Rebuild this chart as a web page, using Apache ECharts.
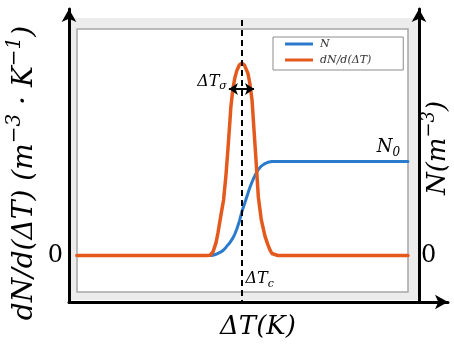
<!DOCTYPE html>
<html>
<head>
<meta charset="utf-8">
<script src="https://cdn.jsdelivr.net/npm/echarts@6/dist/echarts.min.js"></script>
<style>
  html, body { margin: 0; padding: 0; background: #fff; }
  #main { width: 454px; height: 347px; }
</style>
</head>
<body>
<div id="main"></div>
<script>
// Temperature difference samples (arbitrary units along ΔT)
const deltaT = [0, 39.0, 40.2, 41.1, 42.0, 42.6, 43.5, 44.3, 45.0, 45.6, 46.2, 46.5, 47.1, 47.7,
  48.3, 49.1, 49.8, 50.6, 51.4, 51.7, 52.3, 52.9, 53.5, 54.1, 54.8, 55.7, 56.8, 57.7, 58.3,
  58.9, 59.5, 60.7, 100];

// Distribution dN/d(ΔT)
const densityRate = [0, 0, 0.1, 1.4, 5.0, 8.9, 16.0, 22.0, 31.5, 41.8, 52.9, 58.8, 65.9, 70.3,
  73.2, 75.5, 76.2, 75.4, 72.9, 71.9, 67.6, 61.5, 49.5, 37.8, 23.2, 14.1, 7.7, 4.2, 2.2,
  0.8, 0.1, 0, 0];

// Cumulative density N
const densityN = [0, 0, 0, 0.1, 0.5, 0.8, 1.4, 2.2, 3.2, 4.2, 5.1, 5.7, 6.9, 8.5,
  10.5, 13.7, 17.2, 20.4, 23.6, 24.8, 27.1, 29.1, 30.9, 32.5, 34.1, 35.4, 36.4, 36.9, 37.1,
  37.2, 37.2, 37.2, 37.2];

// Characteristic values
const peakT = 49.7;             // ΔT_c
const sigmaSpan = [45.9, 53.5]; // ΔT_σ extent
const sigmaLevel = 65.9;
const plateauN = 37.2;          // N_0
const dashTop = 93.2;

const seriesNames = ['N', 'dN/d(ΔT)'];
const zeroTicks = [0];

const BLUE = '#2a7bcc';
const ORANGE = '#e45a1c';
const SERIF = 'DejaVu Serif';

const chart = echarts.init(document.getElementById('main'), null, { renderer: 'canvas' });

const axisLineStyle = {
  show: true,
  onZero: false,
  lineStyle: { color: '#000', width: 3 },
  symbol: ['none', 'arrow'],
  symbolSize: [11, 13]
};

const yAxisBase = {
  type: 'value',
  min: -18.4,
  max: 97.6,
  axisLine: axisLineStyle,
  axisTick: { show: false },
  splitLine: { show: false },
  axisLabel: {
    show: true,
    customValues: zeroTicks,
    formatter: v => String(v),
    fontFamily: SERIF,
    fontSize: 24,
    color: '#000',
    padding: [6, 0, 0, 0]
  }
};

chart.setOption({
  animation: false,
  grid: { left: 69, right: 6, top: 9, bottom: 45, containLabel: false, outerBoundsMode: 'none' },
  xAxis: {
    type: 'value',
    min: -2.4,
    max: 112.1,
    axisLine: axisLineStyle,
    axisTick: { show: false },
    axisLabel: { show: false },
    splitLine: { show: false }
  },
  yAxis: [
    Object.assign({}, yAxisBase, { position: 'left', axisLabel: Object.assign({}, yAxisBase.axisLabel, { margin: 6 }) }),
    Object.assign({}, yAxisBase, { position: 'right', offset: -29, axisLabel: Object.assign({}, yAxisBase.axisLabel, { margin: 2 }) })
  ],
  legend: {
    data: seriesNames,
    orient: 'vertical',
    left: 273,
    top: 37,
    padding: [0, 32, 3, 12],
    itemGap: 2,
    itemWidth: 28,
    itemHeight: 3,
    icon: 'rect',
    backgroundColor: '#fff',
    borderColor: '#8c8c8c',
    borderWidth: 1,
    textStyle: { fontFamily: SERIF, fontStyle: 'italic', fontSize: 11, color: '#333', lineHeight: 14, padding: [0, 0, 0, 2] }
  },
  series: [
    {
      name: seriesNames[0],
      type: 'line',
      yAxisIndex: 1,
      data: deltaT.map((t, i) => [t, densityN[i]]),
      symbol: 'none',
      smooth: false,
      lineStyle: { color: BLUE, width: 3, cap: 'round', join: 'round' },
      itemStyle: { color: BLUE },
      z: 2
    },
    {
      name: seriesNames[1],
      type: 'line',
      yAxisIndex: 0,
      data: deltaT.map((t, i) => [t, densityRate[i]]),
      symbol: 'none',
      smooth: false,
      lineStyle: { color: ORANGE, width: 3.5, cap: 'round', join: 'round' },
      itemStyle: { color: ORANGE },
      z: 3,
      markLine: {
        silent: true,
        label: { show: false },
        data: [
          [
            { coord: [peakT, dashTop], symbol: 'none', lineStyle: { type: [6, 4], color: '#000', width: 2 } },
            { coord: [peakT, -18.4], symbol: 'none' }
          ],
          [
            { coord: [sigmaSpan[0], sigmaLevel], symbol: 'arrow', symbolSize: 9, lineStyle: { type: 'solid', color: '#000', width: 2 } },
            { coord: [sigmaSpan[1], sigmaLevel], symbol: 'arrow', symbolSize: 9 }
          ]
        ]
      }
    }
  ]
});

// Annotations placed from the data values
const px = (x, y) => chart.convertToPixel({ xAxisIndex: 0, yAxisIndex: 0 }, [x, y]);
const sigmaStart = px(sigmaSpan[0], sigmaLevel);
const peakBase = px(peakT, -9.0);
const plateauPt = px(90.6, plateauN);

const mathText = (sizeMain, sizeSub) => ({
  a: { fontFamily: SERIF, fontStyle: 'italic', fontSize: sizeMain, lineHeight: sizeMain + 4, fill: '#000' },
  s: { fontFamily: SERIF, fontStyle: 'italic', fontSize: sizeSub, lineHeight: sizeSub, verticalAlign: 'bottom', fill: '#000' }
});

chart.setOption({
  graphic: [
    { type: 'rect', z: -10, silent: true, shape: { x: 71, y: 18, width: 347, height: 282 }, style: { fill: '#ececec' } },
    { type: 'rect', z: -9, silent: true, shape: { x: 77, y: 29, width: 331, height: 263 }, style: { fill: '#fff', stroke: '#a6a6a6', lineWidth: 1.5 } },
    {
      type: 'text', z: 50, silent: true, x: sigmaStart[0] - 2, y: sigmaStart[1] + 3,
      style: { text: '{a|ΔT}{s|σ}', rich: mathText(16, 11), align: 'right', verticalAlign: 'bottom', textAlign: 'right', textVerticalAlign: 'bottom' }
    },
    {
      type: 'text', z: 50, silent: true, x: peakBase[0] + 4, y: peakBase[1] + 1,
      style: { text: '{a|ΔT}{s|c}', rich: mathText(16, 11), align: 'left', verticalAlign: 'middle', textAlign: 'left', textVerticalAlign: 'middle' }
    },
    {
      type: 'text', z: 50, silent: true, x: plateauPt[0], y: plateauPt[1] - 3,
      style: { text: '{a|N}{s|0}', rich: mathText(18, 12), align: 'left', verticalAlign: 'bottom', textAlign: 'left', textVerticalAlign: 'bottom' }
    },
    {
      type: 'text', z: 50, silent: true, x: 258, y: 327,
      style: { text: 'ΔT(K)', fontFamily: SERIF, fontStyle: 'italic', fontSize: 26, fill: '#000', align: 'center', verticalAlign: 'middle', textAlign: 'center', textVerticalAlign: 'middle' }
    },
    {
      type: 'text', z: 50, silent: true, x: 25, y: 173, rotation: Math.PI / 2,
      style: {
        text: '{a|dN/d(ΔT) (m}{p|−3}{a| · K}{p|−1}{a|)}',
        rich: {
          a: { fontFamily: SERIF, fontStyle: 'italic', fontSize: 28, lineHeight: 40, fill: '#000' },
          p: { fontFamily: SERIF, fontStyle: 'italic', fontSize: 20, lineHeight: 20, verticalAlign: 'top', fill: '#000' }
        },
        align: 'center', verticalAlign: 'middle', textAlign: 'center', textVerticalAlign: 'middle'
      }
    },
    {
      type: 'text', z: 50, silent: true, x: 438, y: 148, rotation: Math.PI / 2,
      style: {
        text: '{a|N(m}{p|−3}{a|)}',
        rich: {
          a: { fontFamily: SERIF, fontStyle: 'italic', fontSize: 26, lineHeight: 36, fill: '#000' },
          p: { fontFamily: SERIF, fontStyle: 'italic', fontSize: 18, lineHeight: 18, verticalAlign: 'top', fill: '#000' }
        },
        align: 'center', verticalAlign: 'middle', textAlign: 'center', textVerticalAlign: 'middle'
      }
    }
  ]
});
</script>
</body>
</html>
